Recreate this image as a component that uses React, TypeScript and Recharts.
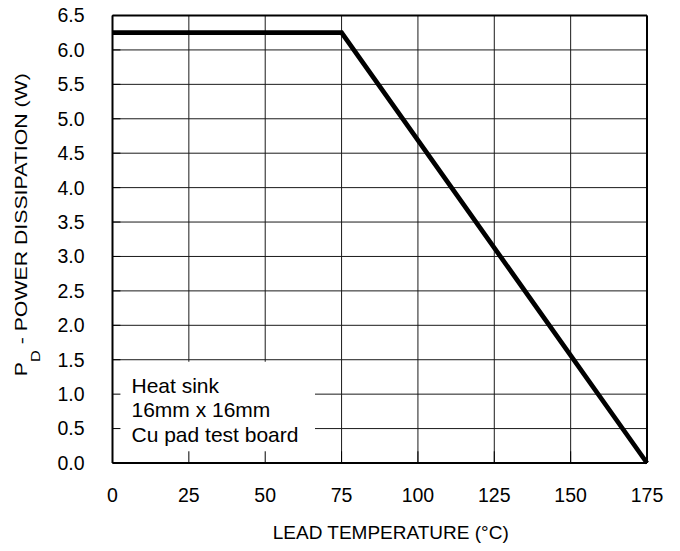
import React from "react";
import {
  LineChart,
  Line,
  XAxis,
  YAxis,
  CartesianGrid,
  ReferenceArea,
  ReferenceLine,
} from "recharts";

// derating curve
const leadTemps = [0, 75, 175];
const powerW = [6.25, 6.25, 0];

const xTicks = [0, 25, 50, 75, 100, 125, 150, 175];
const yTicks = [0, 0.5, 1, 1.5, 2, 2.5, 3, 3.5, 4, 4.5, 5, 5.5, 6, 6.5];

const noteLines = ["Heat sink", "16mm x 16mm", "Cu pad test board"];

const data = leadTemps.map((t, i) => ({ temp: t, pd: powerW[i] }));

const FONT = "'Liberation Sans', Arial, sans-serif";

const YTitle = (props: any) => {
  const vb = props.viewBox;
  const x = vb.x + 27;
  const y = vb.y + vb.height / 2 - 14.5;
  return (
    <text
      x={x}
      y={y}
      transform={`rotate(-90 ${x} ${y})`}
      textAnchor="middle"
      fontSize={17}
      fontFamily={FONT}
      fill="#000"
      textLength={303}
      lengthAdjust="spacingAndGlyphs"
    >
      P
      <tspan fontSize={13} dy={13}>
        D
      </tspan>
      <tspan fontSize={17} dy={-13}>
        {" - POWER DISSIPATION (W)"}
      </tspan>
    </text>
  );
};

const XTitle = (props: any) => {
  const vb = props.viewBox;
  return (
    <text
      x={vb.x + vb.width / 2 + 11}
      y={539}
      textAnchor="middle"
      fontSize={19}
      fontFamily={FONT}
      fill="#000"
    >
      LEAD TEMPERATURE (°C)
    </text>
  );
};

const NoteText = (props: any) => {
  const vb = props.viewBox;
  return (
    <g>
      {noteLines.map((s, i) => (
        <text
          key={s}
          x={vb.x + 19}
          y={vb.y + 31 + i * 24.5}
          fontSize={21}
          fontFamily={FONT}
          fill="#000"
        >
          {s}
        </text>
      ))}
    </g>
  );
};

export default function App() {
  return (
    <div style={{ position: "absolute", left: 0, top: 0, background: "#fff" }}>
      <LineChart
        width={680}
        height={551}
        data={data}
        margin={{ top: 15.5, right: 33, left: 0, bottom: 0 }}
      >
        <CartesianGrid stroke="#1a1a1a" strokeWidth={1} />
        <XAxis
          dataKey="temp"
          type="number"
          domain={[0, 175]}
          ticks={xTicks}
          interval={0}
          height={88}
          axisLine={false}
          tickLine={false}
          tickSize={0}
          tickMargin={25}
          tick={{ fill: "#000", fontSize: 19.5, fontFamily: FONT }}
          label={{ content: XTitle }}
        />
        <YAxis
          type="number"
          domain={[0, 6.5]}
          ticks={yTicks}
          interval={0}
          width={112.5}
          axisLine={false}
          tickLine={false}
          tickSize={0}
          tickMargin={28}
          tickFormatter={(v: number) => v.toFixed(1)}
          tick={{ fill: "#000", fontSize: 19.5, fontFamily: FONT }}
          label={{ content: YTitle }}
        />
        <ReferenceArea
          x1={0}
          x2={66.3}
          y1={0}
          y2={1.47}
          fill="#fff"
          fillOpacity={1}
          stroke="none"
          label={{ content: NoteText }}
        />
        {xTicks.map((t) => (
          <ReferenceLine
            key={`xt${t}`}
            segment={[
              { x: t, y: 0 },
              { x: t, y: 0.17 },
            ]}
            stroke="#000"
            strokeWidth={1}
          />
        ))}
        {yTicks.map((t) => (
          <ReferenceLine
            key={`yt${t}`}
            segment={[
              { x: 0, y: t },
              { x: 2.6, y: t },
            ]}
            stroke="#000"
            strokeWidth={1}
          />
        ))}
        <ReferenceLine y={0} stroke="#000" strokeWidth={2} />
        <ReferenceLine y={6.5} stroke="#000" strokeWidth={2} />
        <ReferenceLine x={0} stroke="#000" strokeWidth={2} />
        <ReferenceLine x={175} stroke="#000" strokeWidth={2} />
        <Line
          dataKey="pd"
          stroke="#000"
          strokeWidth={4.7}
          dot={false}
          isAnimationActive={false}
        />
      </LineChart>
    </div>
  );
}
